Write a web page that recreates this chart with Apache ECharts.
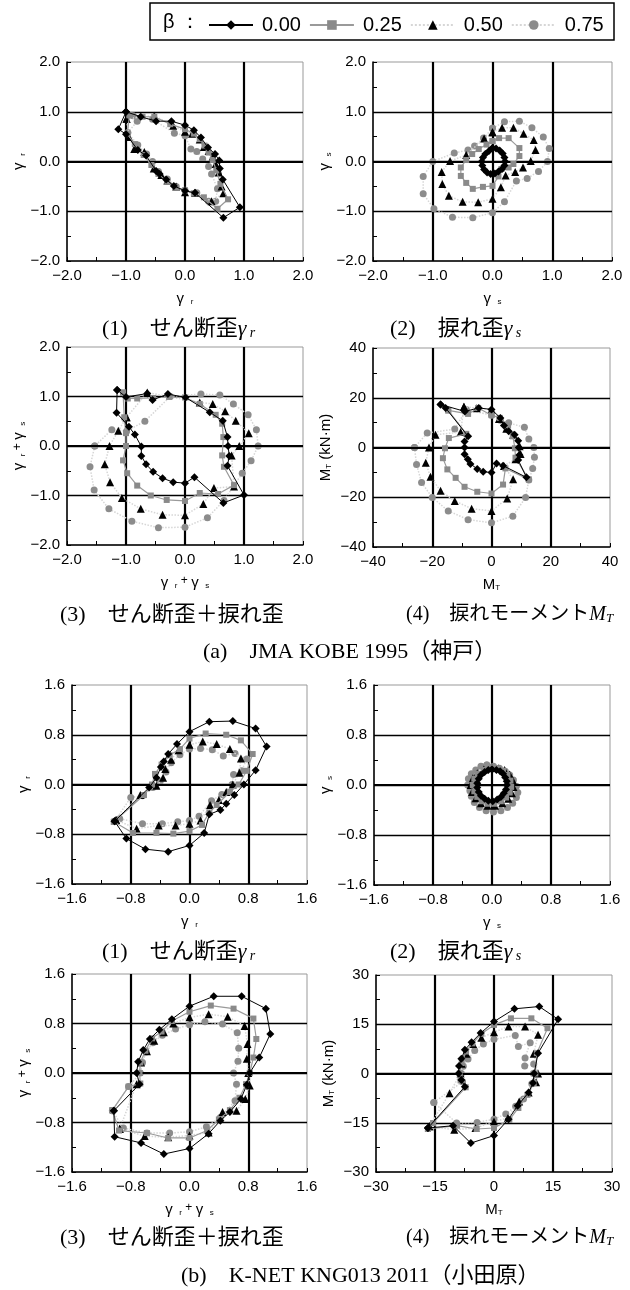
<!DOCTYPE html>
<html>
<head>
<meta charset="utf-8">
<script src="https://cdn.jsdelivr.net/npm/echarts@6/dist/echarts.min.js"></script>
<style>
  html,body{margin:0;padding:0;background:#fff;}
  #main{width:630px;height:1290px;}
</style>
</head>
<body>
<div id="main"></div>
<script>
var BETA = ['0.00', '0.25', '0.50', '0.75'];

// axis ranges [min, max, interval]
var kobeStrainAxis = [-2, 2, 1];
var kobeMomentAxis = [-40, 40, 20];
var odaStrainAxis = [-1.6, 1.6, 0.8];
var odaMomentAxis = [-30, 30, 15];

// (a) JMA KOBE 1995 - (1) shear strain
var kobeR_00 = [[-1.00,1.00],[-0.75,0.90],[-0.49,0.81],[-0.23,0.81],[0.00,0.73],[0.15,0.63],[0.27,0.48],[0.39,0.28],[0.51,0.15],[0.58,0.02],[0.59,-0.14],[0.64,-0.36],[0.93,-0.92],[0.65,-1.13],[0.17,-0.63],[0.00,-0.59],[-0.19,-0.49],[-0.32,-0.36],[-0.43,-0.25],[-0.49,-0.19],[-0.66,0.12],[-0.80,0.23],[-1.00,0.55],[-1.13,0.65],[-1.00,1.00]];
var kobeR_25 = [[-0.94,0.93],[-0.72,0.90],[-0.52,0.90],[-0.25,0.75],[0.00,0.65],[0.15,0.56],[0.25,0.45],[0.33,0.32],[0.40,0.18],[0.47,0.03],[0.53,-0.18],[0.60,-0.45],[0.73,-0.76],[0.55,-0.95],[0.32,-0.72],[0.15,-0.64],[0.00,-0.58],[-0.15,-0.52],[-0.30,-0.40],[-0.45,-0.25],[-0.57,-0.07],[-0.70,0.13],[-0.85,0.35],[-0.98,0.55],[-0.94,0.93]];
var kobeR_50 = [[-0.99,0.86],[-0.52,0.92],[-0.20,0.72],[0.00,0.60],[0.12,0.56],[0.25,0.44],[0.32,0.29],[0.40,0.21],[0.47,0.10],[0.52,-0.05],[0.57,-0.22],[0.62,-0.50],[0.65,-0.64],[0.45,-0.80],[0.17,-0.63],[0.00,-0.62],[-0.15,-0.50],[-0.30,-0.38],[-0.40,-0.27],[-0.53,-0.14],[-0.69,0.19],[-0.86,0.25],[-0.95,0.49],[-0.99,0.86]];
var kobeR_75 = [[-0.97,0.58],[-0.81,0.81],[-0.88,0.92],[-0.55,0.85],[-0.18,0.57],[0.00,0.52],[0.10,0.25],[0.20,0.20],[0.30,0.05],[0.40,-0.10],[0.45,-0.25],[0.55,-0.55],[0.52,-0.80],[0.40,-0.80],[0.20,-0.63],[0.00,-0.58],[-0.15,-0.50],[-0.30,-0.35],[-0.45,-0.20],[-0.55,0.00],[-0.65,0.15],[-0.80,0.33],[-0.97,0.58]];

// (a) (2) torsional strain
var kobeS_00 = [[0.00,0.27],[0.06,0.26],[0.12,0.22],[0.17,0.16],[0.20,0.08],[0.21,0.00],[0.20,-0.08],[0.16,-0.15],[0.10,-0.20],[0.04,-0.24],[-0.03,-0.25],[-0.09,-0.22],[-0.14,-0.16],[-0.17,-0.08],[-0.18,0.00],[-0.16,0.08],[-0.12,0.15],[-0.06,0.21],[0.00,0.27]];
var kobeS_25 = [[0.00,0.41],[0.11,0.47],[0.27,0.47],[0.45,0.27],[0.45,0.11],[0.35,-0.05],[0.27,-0.12],[0.15,-0.15],[0.10,-0.30],[0.00,-0.49],[-0.16,-0.51],[-0.33,-0.55],[-0.44,-0.43],[-0.53,-0.29],[-0.53,-0.12],[-0.44,0.03],[-0.34,0.15],[-0.23,0.25],[-0.10,0.34],[0.00,0.41]];
var kobeS_50 = [[0.00,0.59],[0.16,0.68],[0.35,0.68],[0.52,0.56],[0.69,0.43],[0.72,0.23],[0.64,0.01],[0.51,-0.12],[0.38,-0.21],[0.22,-0.28],[0.14,-0.52],[0.00,-0.75],[-0.24,-0.82],[-0.50,-0.81],[-0.73,-0.69],[-0.84,-0.45],[-0.85,-0.21],[-0.71,0.01],[-0.44,0.13],[-0.14,0.46],[0.00,0.59]];
var kobeS_75 = [[0.00,0.67],[0.20,0.80],[0.45,0.81],[0.66,0.68],[0.85,0.49],[0.95,0.26],[0.92,0.00],[0.77,-0.20],[0.58,-0.34],[0.40,-0.39],[0.20,-0.81],[0.00,-1.03],[-0.33,-1.13],[-0.67,-1.12],[-0.98,-0.95],[-1.16,-0.65],[-1.16,-0.30],[-1.00,0.00],[-0.64,0.17],[-0.41,0.23],[-0.30,0.31],[-0.15,0.47],[0.00,0.67]];

// (a) (3) shear + torsional strain
var kobeRS_00 = [[-1.15,1.13],[-1.16,0.67],[-0.95,0.39],[-0.85,0.23],[-0.74,-0.01],[-0.74,-0.20],[-0.66,-0.37],[-0.54,-0.52],[-0.38,-0.65],[-0.20,-0.73],[0.00,-0.75],[0.16,-0.63],[0.65,-1.15],[1.00,-0.99],[0.72,-0.40],[0.75,-0.20],[0.73,0.00],[0.72,0.18],[0.64,0.51],[0.42,0.68],[0.01,0.98],[-0.29,1.05],[-0.55,0.93],[-0.64,1.06],[-1.00,0.99],[-1.15,1.13]];
var kobeRS_25 = [[-1.05,1.08],[-1.03,0.58],[-1.00,0.26],[-1.00,0.00],[-1.05,-0.29],[-0.98,-0.55],[-0.81,-0.80],[-0.58,-1.00],[-0.31,-1.09],[0.00,-1.11],[0.25,-0.95],[0.56,-0.97],[0.83,-0.79],[0.66,-0.42],[0.63,-0.19],[0.65,0.18],[0.63,0.45],[0.52,0.63],[0.25,0.85],[0.00,0.98],[-0.27,0.99],[-0.54,0.97],[-0.81,0.96],[-0.97,0.96],[-1.05,1.08]];
var kobeRS_50 = [[-0.99,0.58],[-1.13,0.31],[-1.28,0.00],[-1.36,-0.37],[-1.27,-0.73],[-1.07,-1.05],[-0.75,-1.27],[-0.38,-1.39],[0.00,-1.40],[0.31,-1.17],[0.49,-0.85],[0.83,-0.82],[0.79,-0.19],[0.92,0.00],[1.08,0.26],[0.86,0.51],[0.68,0.70],[0.47,0.85],[0.25,0.88],[-0.64,1.08],[-0.99,0.58]];
var kobeRS_75 = [[-1.53,0.00],[-1.61,-0.42],[-1.54,-0.89],[-1.29,-1.27],[-0.90,-1.52],[-0.45,-1.65],[0.00,-1.64],[0.38,-1.45],[0.66,-1.10],[0.97,-0.55],[1.12,-0.30],[1.24,0.00],[1.21,0.33],[1.07,0.63],[0.82,0.85],[0.59,1.03],[0.27,1.05],[-0.25,1.00],[-0.68,0.50],[-0.99,0.30],[-1.24,0.33],[-1.53,0.00]];

// (a) (4) torsional moment MT (kN·m)
var kobeM_00 = [[-17.2,17.3],[-15.5,15.9],[-7.9,4.5],[-9.1,2.4],[-9.1,0.0],[-9.1,-2.7],[-8.0,-4.7],[-7.1,-6.6],[-4.8,-8.6],[-2.8,-9.7],[0.0,-10.1],[1.7,-6.4],[3.9,-7.3],[11.8,-12.0],[9.0,-5.0],[9.4,-3.0],[9.2,0.0],[9.0,2.7],[7.8,5.1],[5.8,6.5],[4.2,8.8],[3.0,11.9],[0.0,15.3],[-4.3,15.9],[-9.0,14.5],[-17.2,17.3]];
var kobeM_25 = [[-14.6,14.9],[-8.5,5.5],[-14.4,3.8],[-15.7,-0.3],[-16.4,-4.3],[-14.9,-8.8],[-12.1,-12.2],[-9.1,-15.8],[-4.8,-17.8],[0.0,-18.5],[3.9,-14.9],[4.7,-8.4],[12.6,-12.8],[8.1,-4.1],[7.9,-0.3],[7.2,4.5],[5.6,8.8],[2.8,11.9],[0.0,13.0],[-4.5,15.9],[-7.9,13.5],[-14.6,14.9]];
var kobeM_50 = [[-9.3,16.4],[-10.4,6.2],[-18.9,5.1],[-21.1,0.0],[-22.2,-6.1],[-20.6,-11.8],[-17.2,-17.4],[-12.4,-21.5],[-6.7,-24.6],[0.0,-25.5],[5.3,-20.5],[7.3,-12.8],[4.2,-7.4],[8.1,-4.7],[9.8,-2.6],[9.5,0.5],[7.3,5.1],[5.0,7.5],[2.5,11.5],[0.0,15.3],[-5.0,15.8],[-9.3,16.4]];
var kobeM_75 = [[-26.0,0.0],[-25.3,-6.8],[-23.6,-14.1],[-20.0,-20.1],[-14.6,-25.5],[-7.9,-29.0],[0.0,-30.3],[7.2,-27.6],[11.5,-20.1],[12.6,-13.1],[13.9,-8.4],[14.5,-3.9],[14.3,0.0],[12.6,3.4],[11.1,8.1],[5.8,9.9],[3.0,11.0],[0.0,13.0],[-8.5,15.3],[-12.4,7.4],[-21.7,5.8],[-26.0,0.0]];

// (b) K-NET KNG013 2011 - (1) shear strain
var odaR_00 = [[-1.02,-0.59],[-0.86,-0.87],[-0.60,-1.04],[-0.29,-1.08],[0.00,-0.98],[0.20,-0.78],[0.27,-0.48],[0.42,-0.41],[0.50,-0.31],[0.61,-0.17],[0.74,0.00],[0.90,0.23],[1.05,0.61],[0.90,0.90],[0.59,1.02],[0.27,1.01],[0.00,0.85],[-0.17,0.65],[-0.29,0.49],[-0.35,0.37],[-0.39,0.28],[-0.45,0.11],[-0.55,-0.05],[-1.02,-0.59]];
var odaR_25 = [[-1.03,-0.60],[-0.77,-0.78],[-0.45,-0.78],[-0.22,-0.79],[0.00,-0.75],[0.17,-0.65],[0.27,-0.45],[0.37,-0.33],[0.55,-0.12],[0.67,0.00],[0.78,0.22],[0.86,0.49],[0.70,0.71],[0.50,0.80],[0.22,0.82],[0.00,0.74],[-0.13,0.57],[-0.27,0.47],[-0.38,0.32],[-0.47,0.17],[-0.51,0.00],[-0.62,-0.17],[-1.03,-0.60]];
var odaR_50 = [[-1.00,-0.57],[-0.72,-0.71],[-0.42,-0.66],[-0.19,-0.66],[0.00,-0.63],[0.15,-0.58],[0.28,-0.33],[0.40,-0.25],[0.50,-0.12],[0.59,0.00],[0.68,0.19],[0.70,0.42],[0.55,0.57],[0.37,0.65],[0.18,0.69],[0.00,0.64],[-0.15,0.55],[-0.25,0.40],[-0.33,0.25],[-0.36,0.11],[-0.45,-0.02],[-0.67,-0.17],[-1.00,-0.57]];
var odaR_75 = [[-1.02,-0.59],[-0.95,-0.55],[-0.64,-0.63],[-0.37,-0.63],[-0.16,-0.60],[0.00,-0.58],[0.13,-0.51],[0.30,-0.26],[0.44,-0.16],[0.58,0.00],[0.60,0.16],[0.71,0.22],[0.78,0.41],[0.62,0.50],[0.46,0.46],[0.31,0.56],[0.15,0.58],[0.00,0.57],[-0.13,0.48],[-0.25,0.35],[-0.32,0.20],[-0.40,0.05],[-0.50,-0.05],[-0.64,-0.18],[-0.80,-0.21],[-1.02,-0.59]];

// (b) (2) torsional strain
var odaS_00 = [[0.00,0.25],[0.06,0.24],[0.11,0.22],[0.15,0.18],[0.18,0.12],[0.20,0.06],[0.20,0.00],[0.19,-0.07],[0.16,-0.13],[0.12,-0.19],[0.07,-0.23],[0.01,-0.26],[-0.05,-0.25],[-0.10,-0.22],[-0.15,-0.17],[-0.18,-0.11],[-0.20,-0.04],[-0.20,0.03],[-0.18,0.10],[-0.15,0.16],[-0.10,0.21],[-0.05,0.24],[0.00,0.25]];
var odaS_25 = [[0.00,0.28],[0.08,0.27],[0.15,0.23],[0.21,0.16],[0.25,0.07],[0.26,-0.03],[0.24,-0.12],[0.19,-0.20],[0.12,-0.26],[0.03,-0.30],[-0.06,-0.30],[-0.14,-0.26],[-0.20,-0.19],[-0.24,-0.10],[-0.26,0.00],[-0.24,0.10],[-0.19,0.18],[-0.11,0.24],[0.00,0.28]];
var odaS_50 = [[0.00,0.28],[0.09,0.27],[0.17,0.24],[0.24,0.17],[0.28,0.08],[0.29,-0.03],[0.27,-0.13],[0.22,-0.22],[0.14,-0.29],[0.04,-0.33],[-0.06,-0.33],[-0.15,-0.29],[-0.22,-0.21],[-0.27,-0.11],[-0.29,0.00],[-0.26,0.11],[-0.20,0.19],[-0.11,0.25],[0.00,0.28]];
var odaS_75 = [[-0.07,0.32],[0.02,0.30],[0.10,0.27],[0.18,0.22],[0.24,0.16],[0.29,0.08],[0.33,-0.02],[0.35,-0.12],[0.33,-0.20],[0.28,-0.29],[0.21,-0.36],[0.12,-0.41],[0.02,-0.43],[-0.08,-0.41],[-0.17,-0.36],[-0.24,-0.28],[-0.28,-0.18],[-0.30,-0.09],[-0.33,0.00],[-0.32,0.10],[-0.28,0.18],[-0.22,0.24],[-0.15,0.30],[-0.07,0.32]];

// (b) (3) shear + torsional strain
var odaRS_00 = [[-1.03,-0.61],[-1.02,-1.03],[-0.66,-1.13],[-0.35,-1.31],[0.00,-1.22],[0.26,-0.98],[0.42,-0.77],[0.55,-0.63],[0.70,-0.42],[0.78,-0.19],[0.82,0.00],[0.95,0.25],[1.10,0.63],[1.04,1.04],[0.71,1.24],[0.33,1.24],[0.00,1.08],[-0.24,0.87],[-0.41,0.70],[-0.54,0.55],[-0.63,0.37],[-0.70,0.18],[-0.72,0.00],[-0.68,-0.18],[-1.03,-0.61]];
var odaRS_25 = [[-1.05,-0.60],[-0.96,-0.93],[-0.58,-0.97],[-0.29,-1.05],[0.00,-1.05],[0.24,-0.93],[0.40,-0.75],[0.55,-0.60],[0.68,-0.40],[0.77,-0.18],[0.82,0.00],[0.87,0.25],[0.91,0.55],[0.87,0.88],[0.60,1.04],[0.29,1.09],[0.00,0.99],[-0.24,0.84],[-0.38,0.67],[-0.51,0.56],[-0.60,0.36],[-0.67,0.17],[-0.68,0.00],[-0.67,-0.17],[-0.83,-0.22],[-1.05,-0.60]];
var odaRS_50 = [[-0.95,-0.90],[-0.61,-1.02],[-0.29,-1.04],[0.00,-1.01],[0.26,-0.96],[0.45,-0.63],[0.64,-0.61],[0.76,-0.42],[0.82,-0.20],[0.80,0.00],[0.78,0.23],[0.79,0.47],[0.75,0.76],[0.52,0.91],[0.26,0.95],[0.00,0.90],[-0.22,0.80],[-0.35,0.66],[-0.48,0.52],[-0.58,0.35],[-0.66,0.17],[-0.72,-0.18],[-0.95,-0.90]];
var odaRS_75 = [[-1.05,-0.61],[-0.90,-0.89],[-0.58,-0.97],[-0.27,-0.97],[0.00,-0.95],[0.23,-0.87],[0.42,-0.72],[0.62,-0.45],[0.64,-0.18],[0.60,0.00],[0.66,0.19],[0.67,0.40],[0.65,0.65],[0.45,0.79],[0.21,0.83],[0.00,0.78],[-0.19,0.71],[-0.37,0.61],[-0.50,0.49],[-0.59,0.34],[-0.64,0.17],[-0.67,0.00],[-0.83,-0.22],[-1.05,-0.61]];

// (b) (4) torsional moment MT (kN·m)
var odaM_00 = [[-16.8,-16.6],[-10.4,-15.9],[-5.9,-21.2],[0.0,-18.9],[3.7,-13.9],[6.0,-9.8],[8.8,-5.8],[9.9,-2.9],[10.2,0.0],[11.2,6.2],[16.3,16.5],[11.5,20.4],[5.2,19.7],[0.0,15.8],[-3.4,12.3],[-5.7,9.5],[-7.4,7.2],[-8.3,4.5],[-8.9,2.3],[-9.0,0.0],[-8.3,-2.0],[-7.4,-4.0],[-16.8,-16.6]];
var odaM_25 = [[-16.8,-16.9],[-9.4,-15.9],[-4.4,-16.9],[0.0,-16.6],[3.9,-14.1],[6.2,-10.5],[8.5,-6.5],[10.1,-2.9],[10.5,0.0],[10.9,6.2],[13.6,13.8],[9.5,16.8],[4.3,16.8],[0.0,14.8],[-3.2,12.1],[-5.5,9.2],[-7.1,6.7],[-8.2,3.2],[-8.7,0.0],[-8.5,-2.1],[-7.2,-4.2],[-15.5,-15.1],[-16.8,-16.9]];
var odaM_50 = [[-16.4,-16.1],[-10.1,-17.1],[-4.7,-16.6],[0.0,-14.6],[3.5,-13.6],[6.4,-8.5],[8.8,-5.8],[10.7,-2.7],[11.2,0.0],[10.1,6.0],[11.2,11.8],[7.9,14.3],[3.7,14.3],[0.0,12.6],[-3.2,10.9],[-5.3,9.0],[-7.0,6.0],[-8.2,3.0],[-8.5,0.0],[-11.3,-6.0],[-16.4,-16.1]];
var odaM_75 = [[-15.3,-8.8],[-9.5,-15.1],[-4.3,-14.9],[0.0,-13.9],[3.0,-12.3],[5.5,-10.0],[7.5,-7.8],[9.6,-3.1],[10.0,0.0],[10.1,2.9],[7.8,2.3],[7.9,4.7],[9.2,9.4],[6.2,8.2],[5.4,11.6],[0.0,10.4],[-2.7,9.0],[-4.9,7.0],[-6.6,4.4],[-7.8,2.2],[-8.3,0.0],[-8.0,-2.5],[-15.3,-8.8]];

var SANS = 'Liberation Sans, Arial, sans-serif';
var SERIF = 'Liberation Serif, Noto Sans CJK JP, serif';

var nameRich = {
  g: {fontSize: 15, fontFamily: SANS, color: '#000'},
  s: {fontSize: 8, fontFamily: SANS, color: '#000', verticalAlign: 'bottom'},
  p: {fontSize: 12, fontFamily: SANS, color: '#000', verticalAlign: 'top'}
};
var N_R = '{g|γ}  {s|r}';
var N_S = '{g|γ}  {s|s}';
var N_RS = '{g|γ}  {s|r} {p|+} {g|γ}  {s|s}';
var N_M = '{g|M}{s|T}';
var N_MU = '{g|M}{s|T}{g| (kN·m)}';

var panels = [
  {box: [67, 62, 236, 199], axis: kobeStrainAxis, dec: 1, xName: N_R, yName: N_R, data: [kobeR_00, kobeR_25, kobeR_50, kobeR_75]},
  {box: [373, 62, 239, 199], axis: kobeStrainAxis, dec: 1, xName: N_S, yName: N_S, data: [kobeS_00, kobeS_25, kobeS_50, kobeS_75]},
  {box: [67, 347, 236, 198], axis: kobeStrainAxis, dec: 1, xName: N_RS, yName: N_RS, data: [kobeRS_00, kobeRS_25, kobeRS_50, kobeRS_75]},
  {box: [373, 348, 237, 199], axis: kobeMomentAxis, dec: 0, xName: N_M, yName: N_MU, data: [kobeM_00, kobeM_25, kobeM_50, kobeM_75]},
  {box: [72, 685, 235, 199], axis: odaStrainAxis, dec: 1, xName: N_R, yName: N_R, data: [odaR_00, odaR_25, odaR_50, odaR_75]},
  {box: [374, 685, 236, 200], axis: odaStrainAxis, dec: 1, xName: N_S, yName: N_S, data: [odaS_00, odaS_25, odaS_50, odaS_75]},
  {box: [72, 974, 235, 198], axis: odaStrainAxis, dec: 1, xName: N_RS, yName: N_RS, data: [odaRS_00, odaRS_25, odaRS_50, odaRS_75]},
  {box: [376, 975, 236, 197], axis: odaMomentAxis, dec: 0, xName: N_M, yName: N_MU, data: [odaM_00, odaM_25, odaM_50, odaM_75]}
];

var looks = [
  {symbol: 'diamond', size: 8, color: '#000', line: {color: '#000', width: 1, type: 'solid'}, z: 6},
  {symbol: 'rect', size: 6, color: '#8a8a8a', line: {color: '#9a9a9a', width: 1.2, type: 'solid'}, z: 5},
  {symbol: 'triangle', size: 8, color: '#000', line: {color: '#d6d6d6', width: 1.5, type: 'dotted'}, z: 4},
  {symbol: 'circle', size: 7, color: '#8c8c8c', line: {color: '#d6d6d6', width: 1.5, type: 'dotted'}, z: 3}
];

function fmt(dec) {
  return function (v) {
    var t = Math.abs(v).toFixed(dec);
    return (v < -1e-9 ? '\u2212' : '') + t;
  };
}

function makeAxis(p, i, isX) {
  return {
    type: 'value', gridIndex: i,
    min: p.axis[0], max: p.axis[1], interval: p.axis[2],
    name: isX ? p.xName : p.yName,
    nameLocation: 'middle',
    nameGap: isX ? 30 : 40,
    nameTextStyle: {rich: nameRich},
    axisLine: {show: true, onZero: false, lineStyle: {color: '#000', width: 1.5}},
    axisTick: {show: true, inside: true, length: 4, lineStyle: {color: '#000'}},
    minorTick: {show: true, splitNumber: 2, length: 4, lineStyle: {color: '#000'}},
    axisLabel: {color: '#000', fontSize: 15, fontFamily: SANS, margin: 7, formatter: fmt(p.dec)},
    splitLine: {show: true, showMinLine: false, showMaxLine: false,
      lineStyle: {color: '#000', width: isX ? 2.2 : 1.3}}
  };
}

var grids = [], xAxes = [], yAxes = [], series = [];
panels.forEach(function (p, i) {
  grids.push({left: p.box[0], top: p.box[1], width: p.box[2], height: p.box[3],
    show: true, borderColor: '#999', borderWidth: 1, backgroundColor: 'transparent'});
  xAxes.push(makeAxis(p, i, true));
  yAxes.push(makeAxis(p, i, false));
  p.data.forEach(function (d, k) {
    var lk = looks[k];
    var s = {
      name: BETA[k], type: 'line', xAxisIndex: i, yAxisIndex: i,
      data: d, symbol: lk.symbol, symbolSize: lk.size, showSymbol: true,
      itemStyle: {color: lk.color}, lineStyle: lk.line, z: lk.z,
      animation: false, silent: true
    };
    if (k === 3) {
      s.markLine = {silent: true, symbol: 'none', label: {show: false},
        lineStyle: {color: '#000', width: 2, type: 'solid'}, data: [{yAxis: 0}]};
    }
    series.push(s);
  });
});

function capRich(size) {
  return {
    n: {fontSize: size, fontFamily: SERIF, color: '#000'},
    i: {fontSize: size, fontFamily: 'Liberation Serif, serif', fontStyle: 'italic', color: '#000'},
    si: {fontSize: Math.round(size * 0.64), fontFamily: 'Liberation Serif, serif', fontStyle: 'italic', color: '#000', verticalAlign: 'bottom'}
  };
}
function caption(x, y, text, size) {
  return {type: 'text', x: x, y: y, silent: true,
    style: {text: text, rich: capRich(size || 22), verticalAlign: 'middle', fill: '#000'}};
}

var graphics = [
  {type: 'rect', shape: {x: 150, y: 3, width: 464, height: 37},
    style: {fill: 'none', stroke: '#000', lineWidth: 1.5}, silent: true},
  {type: 'text', x: 163, y: 22, silent: true,
    style: {text: 'β ：', font: '20px ' + SANS, fill: '#000', verticalAlign: 'middle'}},
  caption(102, 329, '{n|(1)　せん断歪}{i|γ}{si| r}'),
  caption(390, 329, '{n|(2)　捩れ歪}{i|γ}{si| s}'),
  caption(60, 615, '{n|(3)　せん断歪＋捩れ歪}'),
  caption(406, 615, '{n|(4)　捩れモーメント}{i|M}{si|T}', 20),
  caption(203, 652, '{n|(a)　JMA KOBE 1995（神戸）}'),
  caption(102, 952, '{n|(1)　せん断歪}{i|γ}{si| r}'),
  caption(390, 952, '{n|(2)　捩れ歪}{i|γ}{si| s}'),
  caption(60, 1238, '{n|(3)　せん断歪＋捩れ歪}'),
  caption(406, 1238, '{n|(4)　捩れモーメント}{i|M}{si|T}', 20),
  caption(181, 1276, '{n|(b)　K-NET KNG013 2011（小田原）}')
];

var chart = echarts.init(document.getElementById('main'), null, {renderer: 'canvas'});
chart.setOption({
  backgroundColor: '#fff',
  animation: false,
  legend: {
    data: BETA, left: 203, top: 10, orient: 'horizontal',
    itemWidth: 44, itemHeight: 12, itemGap: 8, selectedMode: false,
    textStyle: {fontSize: 20, fontFamily: SANS, color: '#000', padding: [0, 0, 0, 4]}
  },
  grid: grids,
  xAxis: xAxes,
  yAxis: yAxes,
  series: series,
  graphic: graphics
});
</script>
</body>
</html>
